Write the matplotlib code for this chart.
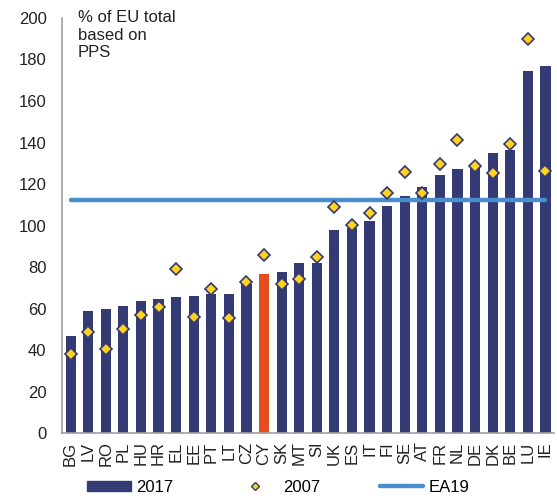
import numpy as np
from matplotlib import pyplot as plt
from matplotlib.lines import Line2D
from matplotlib.patches import Patch

plt.rcParams['font.family'] = ['Liberation Sans', 'DejaVu Sans']

countries = ["BG", "LV", "RO", "PL", "HU", "HR", "EL", "EE", "PT", "LT", "CZ", "CY", "SK", "MT",
             "SI", "UK", "ES", "IT", "FI", "SE", "AT", "FR", "NL", "DE", "DK", "BE", "LU", "IE"]
val_2017 = [46.7, 58.9, 59.8, 61.2, 63.8, 64.4, 65.4, 66.2, 67.0, 67.0, 72.0, 76.8, 77.6, 81.8,
            82.0, 98.0, 99.0, 102.2, 109.4, 114.2, 118.4, 124.2, 127.2, 128.0, 134.8, 136.4, 174.6, 177.0]
val_2007 = [38.1, 48.8, 40.6, 50.3, 56.9, 61.0, 79.2, 56.0, 69.4, 55.3, 72.6, 85.6, 71.7, 74.2,
            85.0, 109.0, 100.4, 106.2, 115.8, 125.6, 115.8, 129.6, 141.0, 128.8, 125.4, 139.3, 189.9, 126.3]
ea19 = 112.3

navy = "#343A74"
orange = "#E64E1F"
yellow = "#FFD21F"
blue = "#4A8DCF"
txt = "#222222"

fig = plt.figure(figsize=(5.57, 4.99), dpi=100)
ax = fig.add_axes([0.111, 0.132, 0.884, 0.832])

x = np.arange(len(countries))
colors = [orange if c == "CY" else navy for c in countries]
ax.bar(x, val_2017, width=0.58, color=colors, zorder=2)
ax.plot([x[0], x[-1]], [ea19, ea19], color=blue, lw=3.2, solid_capstyle='round', zorder=3)
ax.plot(x, val_2007, 'D', ms=6.6, mfc=yellow, mec=navy, mew=1.2, ls='none', zorder=4)

ax.set_xlim(-0.5, len(countries) - 0.5)
ax.set_ylim(0, 200)
ax.set_yticks(np.arange(0, 201, 20))
ax.set_xticks(x)
ax.set_xticklabels(countries, rotation=90, fontsize=12, color=txt)
ax.tick_params(axis='y', length=0, pad=11, labelsize=12, labelcolor=txt)
ax.tick_params(axis='x', length=0, pad=6)
for s in ["top", "right"]:
    ax.spines[s].set_visible(False)
for s in ["left", "bottom"]:
    ax.spines[s].set_color("#A0A0A0")
    ax.spines[s].set_linewidth(1.2)

ax.text(0.032, 1.018, "% of EU total\nbased on\nPPS", transform=ax.transAxes,
        ha='left', va='top', fontsize=12, linespacing=1.2, color=txt)

handles = [Patch(color=navy),
           Line2D([], [], marker='D', ms=4.5, mfc=yellow, mec=navy, mew=1.0, ls='none'),
           Line2D([], [], color=blue, lw=3.2, solid_capstyle='round')]
fig.legend(handles, ["2017", "2007", "EA19"], loc='lower center', bbox_to_anchor=(0.5, -0.015),
           ncol=3, frameon=False, fontsize=12, handlelength=2.6, handleheight=0.5,
           handletextpad=0.35, columnspacing=3.6, borderpad=0.2)

fig.savefig("out.png", dpi=100)
